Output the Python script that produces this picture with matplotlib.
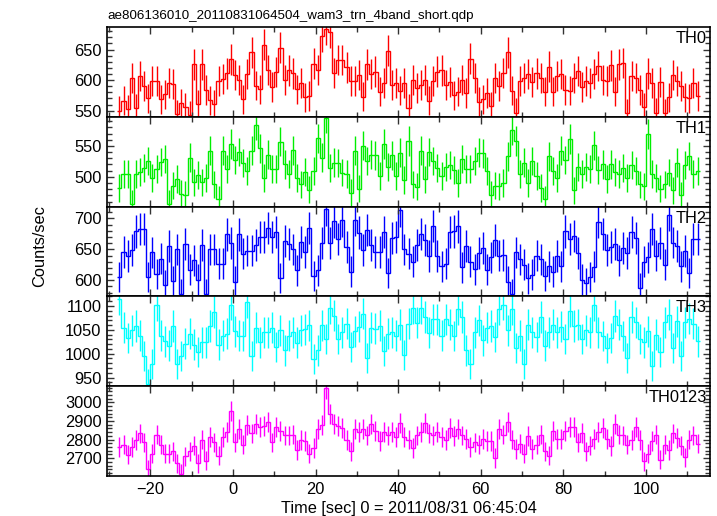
import numpy as np
import matplotlib
matplotlib.use("Agg")
import matplotlib.pyplot as plt
from matplotlib.ticker import MultipleLocator

plt.rcParams['font.family'] = ['Liberation Sans', 'DejaVu Sans']

title = "ae806136010_20110831064504_wam3_trn_4band_short.qdp"
xlabel = "Time [sec] 0 = 2011/08/31 06:45:04"
ylabel = "Counts/sec"

t_start = -28.0
bin_width = 1.0

th0 = [550, 566, 552, 604, 554, 607, 590, 570, 599, 598, 569, 577, 595, 594, 544, 562, 556, 543, 626, 561,
       626, 584, 567, 561, 599, 602, 611, 634, 608, 601, 569, 610, 646, 591, 585, 658, 617, 589, 613, 653,
       600, 616, 611, 585, 595, 572, 574, 627, 617, 672, 683, 679, 612, 633, 633, 621, 598, 598, 608, 573,
       626, 610, 614, 581, 596, 648, 592, 596, 583, 596, 554,
       601, 587, 592, 600, 566, 599, 614, 616, 592, 597, 575, 581, 600, 579, 635, 603, 565, 569, 579, 557,
       604, 590, 612, 646, 583, 547, 599, 604, 610, 597, 611, 603, 581, 622, 581, 607, 610, 584, 583, 604,
       615, 589, 599, 596, 610, 623, 600, 599, 624, 581, 626, 628, 546, 607, 604, 584, 556, 611, 596, 547,
       597, 546, 572, 608, 599, 590, 572, 570, 595, 574]

th1 = [482, 504, 504, 457, 505, 508, 515, 526, 498, 513, 524, 529, 457, 486, 497, 473, 471, 531, 491, 503,
       491, 498, 542, 488, 464, 542, 513, 553, 527, 540, 522, 509, 542, 584, 546, 498, 536, 513, 513, 557,
       520, 504, 543, 498, 488, 508, 479, 509, 562, 531, 595, 515, 523, 522, 507, 504, 474, 542, 481, 550,
       526, 536, 535, 502, 553, 516, 535, 502, 539, 495, 558,
       488, 484, 542, 496, 540, 526, 515, 502, 516, 519, 511, 490, 529, 513, 513, 526, 539, 538, 509, 471,
       486, 485, 490, 533, 576, 558, 504, 523, 490, 526, 502, 482, 464, 533, 509, 498, 542, 527, 561, 478,
       516, 505, 516, 512, 551, 511, 520, 497, 520, 508, 504, 515, 498, 519, 509, 488, 485, 569, 505, 498,
       481, 488, 507, 478, 523, 470, 519, 534, 505, 509]

th2 = [605, 646, 639, 649, 679, 683, 683, 605, 645, 610, 635, 592, 655, 599, 650, 578, 659, 617, 632, 601,
       657, 578, 650, 650, 627, 627, 674, 660, 598, 674, 643, 648, 648, 657, 670, 670, 684, 670, 678, 604,
       664, 659, 650, 616, 662, 646, 684, 607, 616, 660, 715, 660, 695, 666, 697, 654, 614, 698, 677, 649,
       681, 657, 646, 646, 678, 612, 668, 670, 713, 650, 643, 630, 657, 675, 665, 639, 688, 639, 623, 627,
       678, 679, 687, 621, 655, 630, 618, 644, 652, 617, 637, 665, 640, 641, 598, 578, 645, 634, 625, 603,
       609, 640, 634, 607, 623, 614, 639, 623, 679, 667, 672, 644, 601, 595, 605, 622, 694, 675, 649, 654,
       658, 632, 652, 644, 678, 668, 587, 630, 637, 683, 640, 660, 625, 706, 661, 655, 623, 647, 612, 667,
       666]

th3 = [1115, 1054, 1033, 1049, 1058, 1038, 996, 937, 979, 1101, 1038, 1026, 1017, 1058, 979, 996, 1021, 1042, 1019, 1003,
       1024, 1024, 1058, 1087, 1019, 1038, 1042, 1103, 1047, 1038, 1037, 1108, 996, 1054, 1024, 1045, 1045, 1054, 1014, 1049,
       1007, 1038, 1045, 1023, 1049, 1051, 1060, 989, 1007, 1060, 1031, 1096, 1080, 1031, 1045, 1063, 1014, 1047, 1056, 1084,
       991, 1054, 1052, 1059, 1005, 1042, 1045, 1038, 1061, 998, 1063, 1096, 1065, 1096, 1077, 1044, 1072, 1072, 1038, 1072,
       1061, 1037, 1094, 1077, 1007, 979, 1045, 1070, 1028, 1054, 1058, 1035, 1094, 1103, 1049, 1094, 1012, 1038, 979, 1061,
       1045, 1035, 1077, 1017, 1045, 1061, 1045, 1056, 1031, 1089, 1058, 1061, 1031, 1049, 1045, 1101, 1045, 1037, 1012, 1033,
       1079, 1061, 1037, 991, 1077, 1066, 1031, 1024, 1047, 975, 1040, 1003, 1066, 1082, 1012, 1068, 996, 1066, 1073, 1063,
       1026]

th0123 = [2760, 2773, 2718, 2760, 2796, 2833, 2785, 2640, 2724, 2827, 2773, 2724, 2724, 2736, 2673, 2615, 2709, 2736, 2767, 2673,
          2800, 2687, 2815, 2785, 2713, 2815, 2840, 2955, 2785, 2858, 2773, 2876, 2833, 2882, 2869, 2873, 2895, 2785, 2869, 2845,
          2822, 2822, 2827, 2745, 2796, 2791, 2724, 2755, 2858, 2876, 3076, 2936, 2882, 2873, 2864, 2796, 2736, 2858, 2840, 2855,
          2822, 2882, 2845, 2791, 2840, 2822, 2840, 2815, 2887, 2815, 2800, 2755, 2822, 2840, 2891, 2833, 2822, 2840, 2815, 2796,
          2864, 2818, 2855, 2822, 2804, 2760, 2785, 2773, 2804, 2791, 2791, 2700, 2858, 2827, 2895, 2800, 2749, 2778, 2724, 2818,
          2749, 2773, 2827, 2736, 2713, 2845, 2804, 2804, 2845, 2869, 2869, 2785, 2836, 2736, 2767, 2804, 2840, 2864, 2804, 2764,
          2882, 2827, 2822, 2773, 2796, 2869, 2796, 2682, 2724, 2791, 2827, 2691, 2773, 2745, 2833, 2809, 2767, 2705, 2800, 2822,
          2778]

panel_names = ["TH0", "TH1", "TH2", "TH3", "TH0123"]
panel_data = [th0, th1, th2, th3, th0123]
panel_colors = ["#ff0000", "#00ee00", "#0000ff", "#00ffff", "#ff00ff"]
panel_ylims = [(540, 687), (452, 597), (574, 719), (932, 1120), (2604, 3087)]
panel_major = [50, 50, 50, 50, 100]
panel_minor = [10, 10, 10, 10, 20]

fig = plt.figure(figsize=(7.17, 5.16), dpi=100)
left, right = 107 / 717, 710 / 717
top_px, bot_px = 27, 476
n = len(panel_names)
h = (bot_px - top_px) / n
axes = []
for k in range(n):
    y0 = 1 - (top_px + (k + 1) * h) / 516
    ax = fig.add_axes([left, y0, right - left, h / 516])
    axes.append(ax)

for k, ax in enumerate(axes):
    vals = np.array(panel_data[k], dtype=float)
    nb = len(vals)
    edges = t_start + bin_width * np.arange(nb + 1)
    centers = edges[:-1] + bin_width / 2
    err = np.sqrt(vals / bin_width)
    col = panel_colors[k]
    ax.stairs(vals, edges, color=col, linewidth=1.0, baseline=None)
    ax.vlines(centers, vals - err, vals + err, color=col, linewidth=1.0)
    ax.set_xlim(-30.5, 115.5)
    ax.set_ylim(*panel_ylims[k])
    ax.xaxis.set_major_locator(MultipleLocator(20))
    ax.xaxis.set_minor_locator(MultipleLocator(10))
    ax.yaxis.set_major_locator(MultipleLocator(panel_major[k]))
    ax.yaxis.set_minor_locator(MultipleLocator(panel_minor[k]))
    ax.tick_params(which='both', direction='in', top=True, right=True, labelsize=11.8, color='#333333', pad=4)
    ax.tick_params(which='major', length=5, width=1)
    ax.tick_params(which='minor', length=3.5, width=1)
    for sp in ax.spines.values():
        sp.set_linewidth(1.2)
    ax.text(0.995, 0.955, panel_names[k], transform=ax.transAxes, ha='right', va='top', fontsize=11.8)
    if k < n - 1:
        ax.tick_params(labelbottom=False)
    else:
        ax.set_xlabel(xlabel, fontsize=11.8, labelpad=3)

axes[0].set_title(title, loc='left', fontsize=9.6, pad=6)
fig.text(40 / 717, 0.5 * ((1 - top_px / 516) + (1 - bot_px / 516)) + 0.01, ylabel, rotation=90,
         ha='center', va='center', fontsize=11.8)

fig.savefig("out.png", dpi=100)
